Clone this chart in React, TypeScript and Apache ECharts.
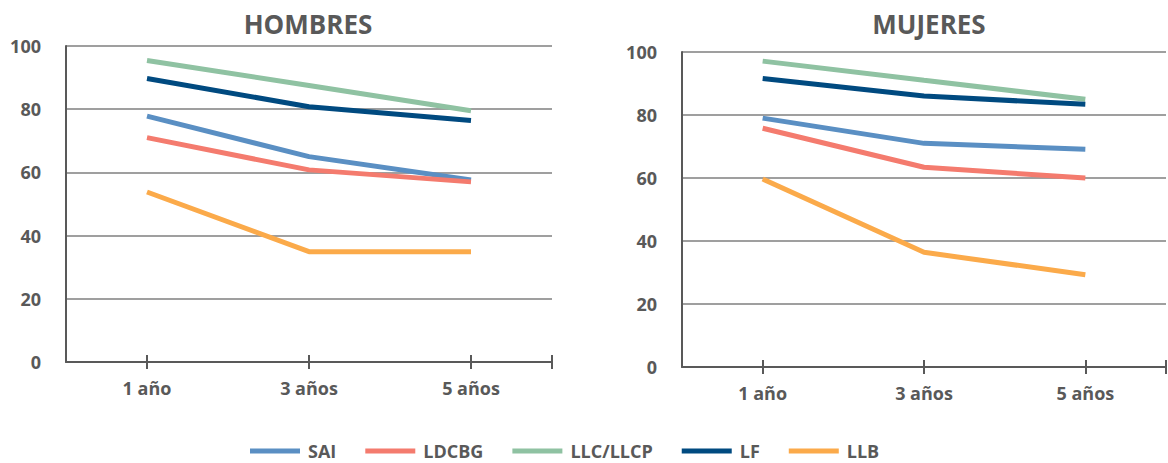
import React, { useEffect, useRef } from "react";
import * as echarts from "echarts";

const categories = ["1 año", "3 años", "5 años"];
const seriesNames = ["SAI", "LDCBG", "LLC/LLCP", "LF", "LLB"];
const colors = ["#5A8FC3", "#F47B6E", "#8FC2A2", "#004A80", "#FBAA4A"];

const hombresSAI = [77.8, 65.0, 57.6];
const hombresLDCBG = [71.0, 60.8, 57.0];
const hombresLLC = [95.4, 87.5, 79.5];
const hombresLF = [89.7, 80.8, 76.4];
const hombresLLB = [53.8, 34.9, 34.9];

const mujeresSAI = [79.0, 71.0, 69.1];
const mujeresLDCBG = [75.8, 63.4, 60.0];
const mujeresLLC = [97.1, 91.0, 85.0];
const mujeresLF = [91.6, 86.0, 83.4];
const mujeresLLB = [59.7, 36.4, 29.3];

const yTicks = [0, 20, 40, 60, 80, 100];

const textColor = "#595959";
const font = "'Open Sans', 'Noto Sans', sans-serif";

export default function App() {
  const ref = useRef<HTMLDivElement>(null);
  useEffect(() => {
    const chart = echarts.init(ref.current!, null, { renderer: "svg" });
    const hombres = [hombresSAI, hombresLDCBG, hombresLLC, hombresLF, hombresLLB];
    const mujeres = [mujeresSAI, mujeresLDCBG, mujeresLLC, mujeresLF, mujeresLLB];

    const grids = [
      { left: 66, right: 616, top: 46, bottom: 101 },
      { left: 682, right: 2, top: 52, bottom: 96 },
    ];

    const xAxes: any[] = [];
    const yAxes: any[] = [];
    [0, 1].forEach((g) => {
      xAxes.push({
        type: "category",
        gridIndex: g,
        data: categories,
        boundaryGap: true,
        axisLine: { show: true, lineStyle: { color: textColor, width: 2 } },
        axisTick: { show: false },
        axisLabel: {
          color: textColor,
          fontFamily: font,
          fontWeight: "bold",
          fontSize: 18,
          margin: 17,
        },
        splitLine: { show: false },
      });
      [true, false].forEach((inside) => {
        xAxes.push({
          type: "value",
          gridIndex: g,
          position: "bottom",
          min: 0,
          max: 6,
          interval: 1,
          axisLine: { show: false },
          axisLabel: { show: false },
          splitLine: { show: false },
          axisTick: {
            show: true,
            inside,
            length: 7,
            customValues: [1, 3, 5, 6],
            lineStyle: { color: textColor, width: 2 },
          },
        });
      });
      yAxes.push({
        type: "value",
        gridIndex: g,
        min: 0,
        max: 100,
        interval: 20,
        axisLine: { show: true, lineStyle: { color: textColor, width: 2 } },
        axisTick: { show: false },
        axisLabel: {
          color: textColor,
          fontFamily: font,
          fontWeight: "bold",
          fontSize: 18,
          margin: 25,
          customValues: yTicks,
        },
        splitLine: { show: true, lineStyle: { color: "#7F7F7F", width: 1.5 } },
      });
    });

    const series: any[] = [];
    [hombres, mujeres].forEach((set, g) => {
      set.forEach((vals, i) => {
        series.push({
          type: "line",
          name: seriesNames[i],
          xAxisIndex: g * 3,
          yAxisIndex: g,
          data: vals,
          symbol: "none",
          lineStyle: { color: colors[i], width: 5 },
          itemStyle: { color: colors[i] },
        });
      });
    });

    chart.setOption({
      animation: false,
      textStyle: { fontFamily: font },
      title: [
        {
          text: "HOMBRES",
          left: 303,
          top: 6,
          textAlign: "center",
          textStyle: { color: textColor, fontFamily: font, fontWeight: "bold", fontSize: 26 },
        },
        {
          text: "MUJERES",
          left: 924,
          top: 6,
          textAlign: "center",
          textStyle: { color: textColor, fontFamily: font, fontWeight: "bold", fontSize: 26 },
        },
      ],
      legend: {
        data: seriesNames,
        left: 250,
        top: 441,
        padding: 0,
        icon: "rect",
        itemWidth: 50,
        itemHeight: 5,
        itemGap: 29,
        textStyle: {
          color: textColor,
          fontFamily: font,
          fontWeight: "bold",
          fontSize: 18,
          lineHeight: 20,
          padding: [0, 0, 0, 3],
        },
      },
      grid: grids,
      xAxis: xAxes,
      yAxis: yAxes,
      series,
    });
    return () => chart.dispose();
  }, []);
  return (
    <div
      ref={ref}
      style={{ position: "fixed", left: 0, top: 0, width: 1168, height: 463, background: "#fff" }}
    />
  );
}
